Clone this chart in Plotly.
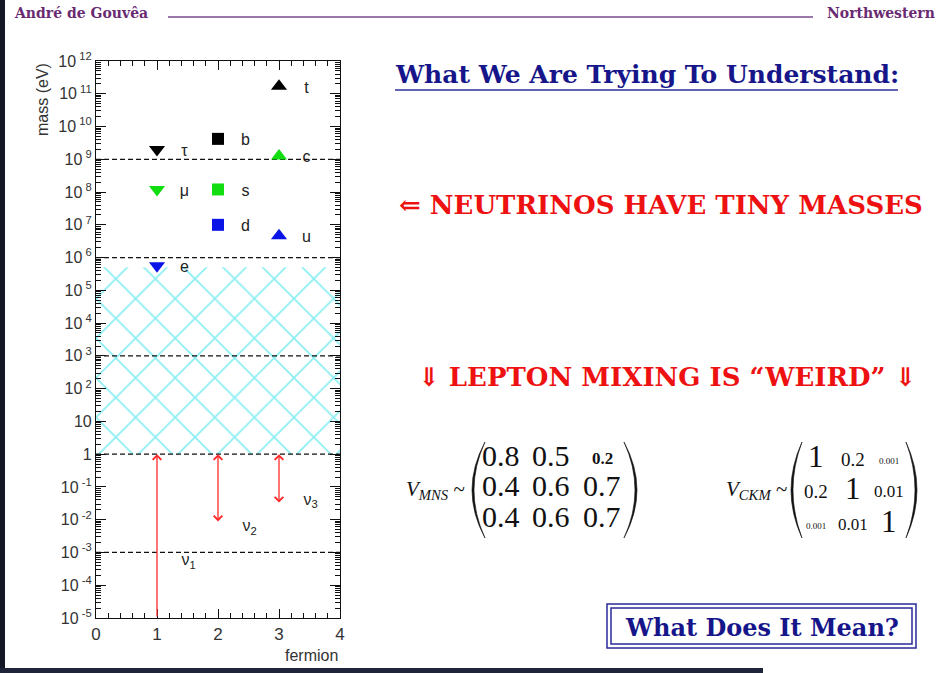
import math
import plotly.graph_objects as go

# ---------------- data ----------------
lepton_names = ["τ", "μ", "e"]
lepton_x = [1, 1, 1]
lepton_mass = [2.0e9, 1.2e8, 5.6e5]

down_names = ["b", "s", "d"]
down_x = [2, 2, 2]
down_mass = [4.2e9, 1.2e8, 1.0e7]

up_names = ["t", "c", "u"]
up_x = [3, 3, 3]
up_mass = [1.7e11, 1.26e9, 4.6e6]

gen_colors = ["#000000", "#11dd11", "#0a14e6"]  # 3rd, 2nd, 1st generation

nu_names = ["ν<sub>1</sub>", "ν<sub>2</sub>", "ν<sub>3</sub>"]
nu_x = [1, 2, 3]
nu_upper = [1.0, 1.0, 1.0]
nu_lower = [1e-5, 8e-3, 3e-2]
nu_label_y = [5.4e-4, 5.8e-3, 3.8e-2]

hatch_low = 1.0
hatch_high = 5.11e5

scale_values = [1e12, 1e9, 1e6, 1e3, 1.0, 1e-3]
scale_labels = ["TeV", "GeV", "MeV", "keV", "eV", "meV"]
dashed_levels = [1e9, 1e6, 1e3, 1.0, 1e-3]

y_exponents = list(range(-5, 13))
x_ticks = [0, 1, 2, 3, 4]

mns_matrix = [["0.8", "0.5", "0.2"], ["0.4", "0.6", "0.7"], ["0.4", "0.6", "0.7"]]
ckm_matrix = [["1", "0.2", "0.001"], ["0.2", "1", "0.01"], ["0.001", "0.01", "1"]]

# ---------------- helpers ----------------
L, R, T, B = 96, 340, 61, 618


def px(x):
    return (x - L) / (R - L)


def py(y):
    return (B - y) / (B - T)


def ylabel(k):
    if k == 0:
        return "1"
    if k == 1:
        return "10"
    return "10<sup>\u00a0%d</sup>" % k


TICKFONT = dict(family="Liberation Sans, Arial, sans-serif", size=16, color="#333333")
SERIF = "DejaVu Serif, Liberation Serif, serif"
NAVY = "#16168a"
RED = "#ee1111"


def note(xp, yp, text, font, xanchor="center", yanchor="middle", **kw):
    d = dict(x=px(xp), y=py(yp), xref="paper", yref="paper", text=text, showarrow=False,
             xanchor=xanchor, yanchor=yanchor, font=font)
    d.update(kw)
    return d


fig = go.Figure()

# hatched (excluded) region
fig.add_trace(go.Scatter(
    x=[0, 4, 4, 0, 0], y=[hatch_low, hatch_low, hatch_high, hatch_high, hatch_low],
    mode="lines", fill="toself", line=dict(width=0), fillcolor="rgba(0,0,0,0)",
    fillpattern=dict(shape="x", fgcolor="#10dce6", bgcolor="rgba(255,255,255,0)", size=28, solidity=0.11),
    hoverinfo="skip"))

# dashed energy-scale lines
dx, dy = [], []
for v in dashed_levels:
    dx += [0, 4, None]
    dy += [v, v, None]
fig.add_trace(go.Scatter(x=dx, y=dy, mode="lines",
                         line=dict(color="#111111", width=1.2, dash="5px,3px"), hoverinfo="skip"))

# fermion markers
fig.add_trace(go.Scatter(x=lepton_x, y=lepton_mass, mode="markers",
                         marker=dict(symbol="triangle-down", size=14, color=gen_colors)))
fig.add_trace(go.Scatter(x=down_x, y=down_mass, mode="markers",
                         marker=dict(symbol="square", size=12, color=gen_colors)))
fig.add_trace(go.Scatter(x=up_x, y=up_mass, mode="markers",
                         marker=dict(symbol="triangle-up", size=14, color=gen_colors)))

# fermion labels
lab_font = dict(family="Liberation Sans, Arial, sans-serif", size=16, color="#222222")
for xs, ms, ns in [(lepton_x, lepton_mass, lepton_names), (down_x, down_mass, down_names),
                   (up_x, up_mass, up_names)]:
    fig.add_trace(go.Scatter(x=[x + 0.45 for x in xs], y=[m * 0.85 for m in ms], mode="text",
                             text=ns, textfont=lab_font, textposition="middle center", hoverinfo="skip"))

# neutrino labels
fig.add_trace(go.Scatter(x=[x + 0.52 for x in nu_x], y=nu_label_y, mode="text", text=nu_names,
                         textfont=dict(family="Liberation Sans, Arial, sans-serif", size=16, color="#222222"),
                         hoverinfo="skip"))

annotations = []
# neutrino arrows
for i, (x, hi, lo) in enumerate(zip(nu_x, nu_upper, nu_lower)):
    annotations.append(dict(
        x=x, y=math.log10(hi), ax=x, ay=math.log10(lo), xref="x", yref="y", axref="x", ayref="y",
        showarrow=True, arrowhead=4, startarrowhead=4, arrowsize=1.3, startarrowsize=1.3,
        arrowwidth=1.3, arrowcolor="#ff2a2a", text="",
        arrowside="end" if i == 0 else "end+start"))

# right side energy labels
for v, s in zip(scale_values, scale_labels):
    annotations.append(dict(x=4.1, y=math.log10(v), xref="x", yref="y", text=s, showarrow=False,
                            xanchor="left", yanchor="middle", font=TICKFONT))

# axis titles
annotations.append(note(43, 100, "mass (eV)", dict(family="Liberation Sans, Arial", size=16, color="#333"),
                        textangle=-90))
annotations.append(note(340, 655, "fermion", dict(family="Liberation Sans, Arial", size=16, color="#333"),
                        xanchor="right"))

# header
HDR = dict(family=SERIF, size=14, color="#6a2a72")
annotations.append(note(12, 13, "<b>André de Gouvêa</b>", HDR, xanchor="left"))
annotations.append(note(937, 13, "<b>Northwestern</b>", HDR, xanchor="right"))

# slide texts
annotations.append(note(647, 74, "<b>What We Are Trying To Understand:</b>", dict(family=SERIF, size=25, color=NAVY)))
annotations.append(note(661, 205, "<b>⇐ NEUTRINOS HAVE TINY MASSES</b>", dict(family=SERIF, size=26, color=RED)))
annotations.append(note(667, 377, "<b>⇓ LEPTON MIXING IS “WEIRD” ⇓</b>", dict(family=SERIF, size=26, color=RED)))
annotations.append(note(762, 627, "<b>What Does It Mean?</b>", dict(family=SERIF, size=24, color=NAVY)))

# matrices
MS = "Liberation Serif, serif"
annotations.append(note(467, 490, "<i>V</i><sub><i>MNS</i></sub> ~", dict(family=MS, size=21, color="#111"),
                        xanchor="right"))
mns_cols = [501, 551, 602]
mns_rows = [455, 485, 516]
for r, row in enumerate(mns_matrix):
    for c, v in enumerate(row):
        small = (r == 0 and c == 2)
        annotations.append(note(mns_cols[c], mns_rows[r] + (3 if small else 0),
                                ("<b>%s</b>" % v) if small else v,
                                dict(family=MS, size=17 if small else 30, color="#111")))

annotations.append(note(789, 490, "<i>V</i><sub><i>CKM</i></sub> ~", dict(family=MS, size=21, color="#111"),
                        xanchor="right"))
ckm_cols = [816, 853, 889]
ckm_rows = [456, 488, 521]
size_of = {"1": 31, "0.2": 19, "0.01": 17, "0.001": 9}
for r, row in enumerate(ckm_matrix):
    for c, v in enumerate(row):
        off = 0 if v == "1" else (3 if v != "0.001" else 5)
        annotations.append(note(ckm_cols[c], ckm_rows[r] + off, v,
                                dict(family=MS, size=size_of[v], color="#111")))


# shapes
def pp(x, y):
    return "%.5f,%.5f" % (px(x), py(y))


def paren(xtip, ytop, ybot, bulge, thick):
    ym = (ytop + ybot) / 2
    return ("M %s Q %s %s Q %s %s Z" % (pp(xtip, ytop), pp(xtip + bulge, ym), pp(xtip, ybot),
                                          pp(xtip + bulge + thick, ym), pp(xtip, ytop)))


shapes = []
for path in [paren(485, 442, 538, -26, 4), paren(624, 442, 538, 26, -4),
             paren(802, 442, 538, -22, 4), paren(906, 442, 538, 22, -4)]:
    shapes.append(dict(type="path", path=path, xref="paper", yref="paper",
                       fillcolor="#111", line=dict(color="#111", width=0.6)))

# title underline
shapes.append(dict(type="line", xref="paper", yref="paper", x0=px(395), x1=px(898), y0=py(90), y1=py(90),
                   line=dict(color="#6464b4", width=2)))
# header line
shapes.append(dict(type="line", xref="paper", yref="paper", x0=px(168), x1=px(813), y0=py(17), y1=py(17),
                   line=dict(color="#7a4a8a", width=1.5)))
# double box
shapes.append(dict(type="rect", xref="paper", yref="paper", x0=px(607), x1=px(916), y0=py(604), y1=py(648),
                   line=dict(color="#2a2a9a", width=1.5)))
shapes.append(dict(type="rect", xref="paper", yref="paper", x0=px(611), x1=px(912), y0=py(608), y1=py(644),
                   line=dict(color="#2a2a9a", width=1.5)))
# dark slide edges
shapes.append(dict(type="rect", xref="paper", yref="paper", x0=px(0), x1=px(5), y0=py(673), y1=py(0),
                   fillcolor="#141826", line=dict(width=0), layer="below"))
shapes.append(dict(type="rect", xref="paper", yref="paper", x0=px(0), x1=px(763), y0=py(673), y1=py(668),
                   fillcolor="#1f2438", line=dict(width=0), layer="below"))

minor_y = [m * 10 ** k for k in range(-5, 12) for m in range(2, 10)]

fig.update_layout(
    width=951, height=673,
    margin=dict(l=L, r=951 - R, t=T, b=673 - B, pad=0),
    paper_bgcolor="white", plot_bgcolor="white", showlegend=False,
    annotations=annotations, shapes=shapes,
    xaxis=dict(range=[0, 4], tickvals=x_ticks, ticktext=[str(v) for v in x_ticks], ticks="inside", ticklen=9,
               tickcolor="#111", showline=True, linecolor="#111", linewidth=1.2, mirror="ticks",
               showgrid=False, zeroline=False, tickfont=dict(family="Liberation Sans, Arial", size=17, color="#333"),
               minor=dict(dtick=0.2, ticks="inside", ticklen=5, tickcolor="#111", showgrid=False)),
    yaxis=dict(type="log", range=[-5, 12], tickvals=[10.0 ** k for k in y_exponents],
               ticktext=[ylabel(k) for k in y_exponents], ticks="inside", ticklen=10, tickcolor="#111",
               showline=True, linecolor="#111", linewidth=1.2, mirror="ticks", showgrid=False, zeroline=False,
               tickfont=TICKFONT,
               minor=dict(tickvals=minor_y, ticks="inside", ticklen=5, tickcolor="#111", showgrid=False)),
)

fig.write_html("out.html", config={"displayModeBar": False},
               post_script="document.body.style.margin='0px';")
